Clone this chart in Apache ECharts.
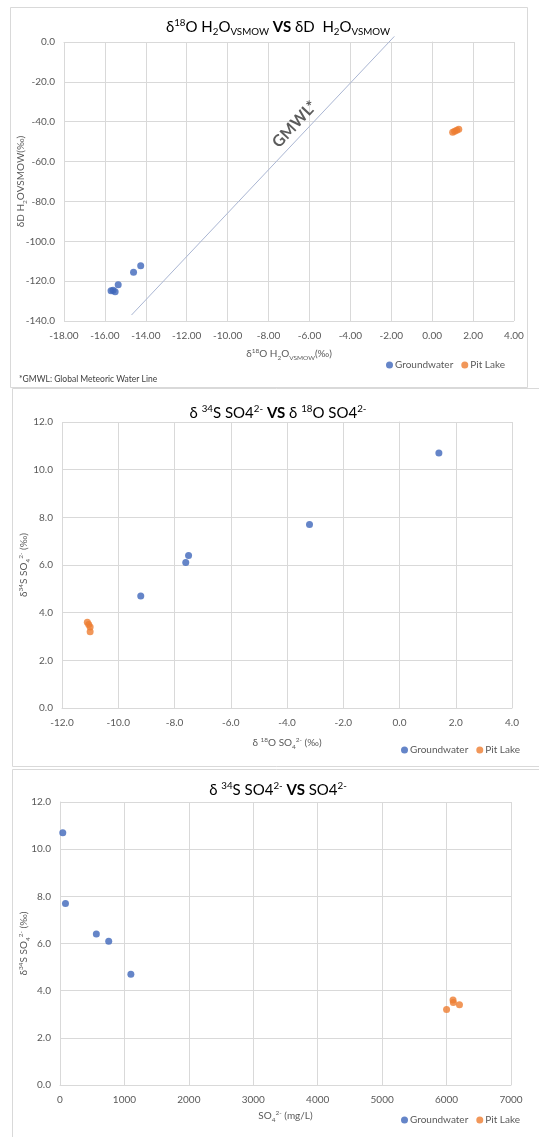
<!DOCTYPE html>
<html><head><meta charset="utf-8">
<script src="https://cdn.jsdelivr.net/npm/echarts@6/dist/echarts.min.js"></script>
<style>html,body{margin:0;padding:0;background:#fff}#c{width:539px;height:1137px}</style>
</head><body><div id="c"></div>
<script>
// ---- Panel 1: d18O vs dD of water ----
const p1Groundwater = [[-15.7,-124.8],[-15.6,-124.6],[-15.5,-125.3],[-15.35,-121.8],[-14.6,-115.6],[-14.25,-112.3]];
const p1PitLake = [[1.0,-45.3],[1.1,-44.8],[1.2,-44.3],[1.3,-43.8]];
const p1GMWL = [[-14.7,-137.0],[-1.85,2.8]];
const p1GMWLLabel = [[-6.72,-41.3]];
const p1X = {min:-18, max:4, interval:2, decimals:2};
const p1Y = {min:-140, max:0, interval:20, decimals:1};
// ---- Panel 2: d34S vs d18O of sulfate ----
const p2Groundwater = [[1.4,10.7],[-3.2,7.7],[-7.5,6.4],[-7.6,6.1],[-9.2,4.7]];
const p2PitLake = [[-11.1,3.6],[-11.05,3.5],[-11.0,3.4],[-11.0,3.2]];
const p2X = {min:-12, max:4, interval:2, decimals:1};
const p2Y = {min:0, max:12, interval:2, decimals:1};
// ---- Panel 3: d34S vs sulfate concentration ----
const p3Groundwater = [[43,10.7],[85,7.7],[564,6.4],[756,6.1],[1100,4.7]];
const p3PitLake = [[6000,3.2],[6100,3.6],[6105,3.5],[6200,3.4]];
const p3X = {min:0, max:7000, interval:1000, decimals:0};
const p3Y = {min:0, max:12, interval:2, decimals:1};
const seriesNames = ['Groundwater','Pit Lake'];
const colors = ['#3F66BA','#ED7D31'];

const FONT = 'Lato, "Open Sans", sans-serif';
const TXT = '#595959';
const GRID = '#d9d9d9';

const nameRich = (fs) => ({
  n:{fontSize:fs, color:TXT, fontFamily:FONT, lineHeight:fs+4},
  sup:{fontSize:fs*0.65, color:TXT, fontFamily:FONT, verticalAlign:'top', lineHeight:fs+4, padding:[0,0,fs*0.45,0]},
  sub:{fontSize:fs*0.65, color:TXT, fontFamily:FONT, verticalAlign:'bottom', lineHeight:fs+4, padding:[fs*0.35,0,0,0]},
  b:{fontSize:fs, color:'#404040', fontWeight:'bold', fontFamily:FONT, lineHeight:fs+4}
});

function xAxis(idx, cfg, name, gap){
  return {type:'value', gridIndex:idx, min:cfg.min, max:cfg.max, interval:cfg.interval,
    axisLine:{show:true, lineStyle:{color:GRID}}, axisTick:{show:false},
    splitLine:{show:true, lineStyle:{color:GRID, width:1}},
    axisLabel:{color:TXT, fontSize:10, fontFamily:FONT, margin:10, formatter:v=>v.toFixed(cfg.decimals)},
    name:name, nameLocation:'middle', nameGap:gap, nameMoveOverlap:false,
    nameTextStyle:{rich:nameRich(10)}};
}
function yAxis(idx, cfg, name, gap){
  return {type:'value', gridIndex:idx, min:cfg.min, max:cfg.max, interval:cfg.interval,
    axisLine:{show:true, lineStyle:{color:GRID}}, axisTick:{show:false},
    splitLine:{show:true, lineStyle:{color:GRID, width:1}},
    axisLabel:{color:TXT, fontSize:10, fontFamily:FONT, margin:9, formatter:v=>v.toFixed(cfg.decimals)},
    name:name, nameLocation:'middle', nameGap:gap, nameMoveOverlap:false,
    nameTextStyle:{rich:nameRich(10)}};
}
function scatter(idx, name, data, color){
  return {type:'scatter', name:name, xAxisIndex:idx, yAxisIndex:idx, data:data,
    symbolSize:7, itemStyle:{color:color}};
}
function legend(left, top){
  return {data:seriesNames, left:left, top:top, icon:'circle', itemWidth:7, itemHeight:7, itemGap:8,
    textStyle:{color:TXT, fontSize:10, fontFamily:FONT, padding:[0,0,0,-3]}};
}
function titleText(x, y, text){
  return {type:'text', x:x, y:y, style:{text:text, align:'center', verticalAlign:'middle', rich:nameRich(15)}};
}

const chart = echarts.init(document.getElementById('c'), null, {renderer:'canvas'});
chart.setOption({
  animation:false,
  backgroundColor:'#fff',
  grid:[
    {left:64, top:42, width:450, height:279},
    {left:62, top:422, width:450, height:286},
    {left:60, top:802, width:451, height:283}
  ],
  xAxis:[
    xAxis(0, p1X, '{n|δ}{sup|18}{n|O H}{sub|2}{n|O}{sub|VSMOW}{n|(‰)}', 26),
    xAxis(1, p2X, '{n|δ }{sup|18}{n|O SO}{sub|4}{sup|2-}{n| (‰)}', 28),
    xAxis(2, p3X, '{n|SO}{sub|4}{sup|2-}{n| (mg/L)}', 24)
  ],
  yAxis:[
    yAxis(0, p1Y, '{n|δD H}{sub|2}{n|OVSMOW(‰)}', 36),
    yAxis(1, p2Y, '{n|δ}{sup|34}{n|S SO}{sub|4}{sup|2-}{n| (‰)}', 31),
    yAxis(2, p3Y, '{n|δ}{sup|34}{n|S SO}{sub|4}{sup|2-}{n| (‰)}', 29)
  ],
  legend:[legend(381, 355), legend(396, 740), legend(396, 1110)],
  series:[
    {type:'line', name:'GMWL', xAxisIndex:0, yAxisIndex:0, data:p1GMWL, clip:false,
      showSymbol:false, symbol:'none', lineStyle:{color:'#aab6d3', width:1}, silent:true},
    {type:'scatter', name:'GMWL label', xAxisIndex:0, yAxisIndex:0, data:p1GMWLLabel, symbolSize:0,
      silent:true,
      label:{show:true, position:'inside', formatter:'GMWL*', rotate:47, fontSize:16, fontWeight:'bold',
        color:'#333333', fontFamily:FONT}},
    scatter(0, seriesNames[0], p1Groundwater, colors[0]),
    scatter(0, seriesNames[1], p1PitLake, colors[1]),
    scatter(1, seriesNames[0], p2Groundwater, colors[0]),
    scatter(1, seriesNames[1], p2PitLake, colors[1]),
    scatter(2, seriesNames[0], p3Groundwater, colors[0]),
    scatter(2, seriesNames[1], p3PitLake, colors[1])
  ],
  graphic:[
    {type:'rect', shape:{x:10.5, y:7.5, width:517, height:380}, style:{fill:null, stroke:'#d9d9d9', lineWidth:1}, silent:true},
    {type:'rect', shape:{x:12.5, y:388.5, width:540, height:378}, style:{fill:null, stroke:'#d9d9d9', lineWidth:1}, silent:true},
    {type:'rect', shape:{x:12.5, y:769.5, width:540, height:380}, style:{fill:null, stroke:'#d9d9d9', lineWidth:1}, silent:true},
    titleText(278, 27, '{n|δ}{sup|18}{n|O H}{sub|2}{n|O}{sub|VSMOW}{n| }{b|VS}{n| δD  H}{sub|2}{n|O}{sub|VSMOW}'),
    titleText(278, 413, '{n|δ }{sup|34}{n|S SO4}{sup|2-}{n| }{b|VS}{n| δ }{sup|18}{n|O SO4}{sup|2-}'),
    titleText(278, 790, '{n|δ }{sup|34}{n|S SO4}{sup|2-}{n| }{b|VS}{n| SO4}{sup|2-}'),
    {type:'text', x:19, y:379, style:{text:'*GMWL: Global Meteoric Water Line', fill:'#404040', fontSize:8.5,
      fontFamily:FONT, verticalAlign:'middle'}, silent:true}
  ]
});
</script></body></html>
